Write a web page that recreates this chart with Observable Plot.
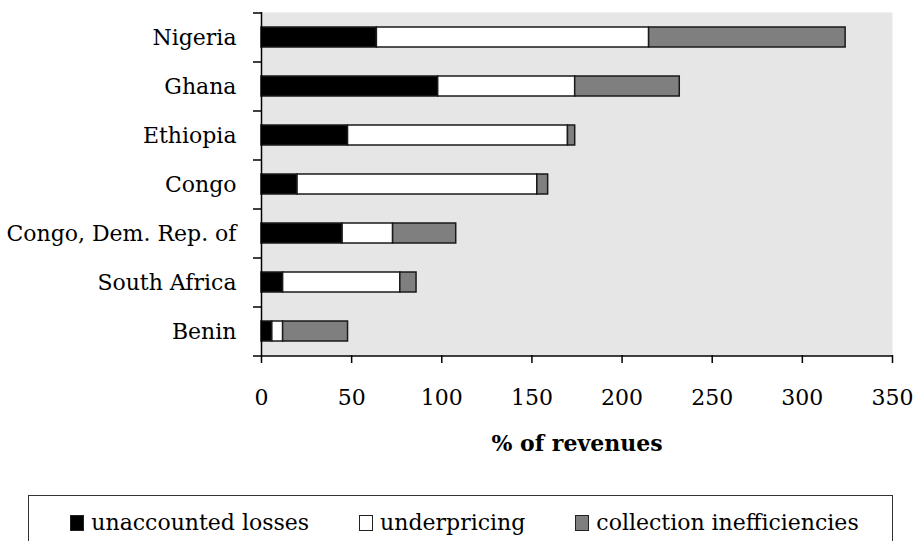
<!DOCTYPE html>
<html>
<head>
<meta charset="utf-8">
<script src="https://cdn.jsdelivr.net/npm/d3@7"></script>
<script src="https://cdn.jsdelivr.net/npm/@observablehq/plot@0.6"></script>
<style>
  html, body { margin: 0; padding: 0; background: #fff; }
  body { position: relative; width: 915px; height: 541px; overflow: hidden; font-family: "DejaVu Serif", serif; }
  #chart svg { display: block; }
  #legend {
    position: absolute; left: 28px; top: 495px; width: 865px; height: 60px;
    box-sizing: border-box; border: 1.5px solid #333; background: #fff;
    display: flex; justify-content: center; align-items: flex-start;
    padding-top: 14px; padding-left: 8px; gap: 50px; font-size: 22px; color: #000;
  }
  .item { display: flex; align-items: center; white-space: nowrap; }
  .sw { display: inline-block; width: 12px; height: 14px; border: 1.5px solid #222; margin-right: 7px; }
</style>
</head>
<body>
<div id="chart"></div>
<div id="legend"></div>
<script>
const countries = ["Nigeria", "Ghana", "Ethiopia", "Congo", "Congo, Dem. Rep. of", "South Africa", "Benin"];
const unaccountedLosses = [64, 98, 48, 20, 45, 12, 6];
const underpricing = [151, 76, 122, 133, 28, 65, 6];
const collectionInefficiencies = [109, 58, 4, 6, 35, 9, 36];
const seriesNames = ["unaccounted losses", "underpricing", "collection inefficiencies"];
const seriesColors = ["#000000", "#ffffff", "#7f7f7f"];
const xTicks = [0, 50, 100, 150, 200, 250, 300, 350];
const xTitle = "% of revenues";

const seriesValues = [unaccountedLosses, underpricing, collectionInefficiencies];
const data = [];
countries.forEach((c, i) => {
  seriesNames.forEach((s, j) => data.push({country: c, series: s, value: seriesValues[j][i]}));
});

const W = 915, H = 490, mT = 12, mB = 135, mL = 261, mR = 23;
const step = (H - mT - mB) / countries.length;

const chart = Plot.plot({
  width: W, height: H,
  marginTop: mT, marginBottom: mB, marginLeft: mL, marginRight: mR,
  style: {fontFamily: "DejaVu Serif", fontSize: "22px", color: "#000", background: "#fff"},
  x: {domain: [0, 350], ticks: xTicks},
  y: {domain: countries, paddingInner: 0.6, paddingOuter: 0.3},
  color: {domain: seriesNames, range: seriesColors},
  marks: [
    Plot.frame({fill: "#e6e6e6", stroke: null}),
    Plot.barX(data, Plot.stackX({
      x: "value", y: "country", fill: "series", order: seriesNames,
      stroke: "#1a1a1a", strokeWidth: 1.5
    })),
    Plot.ruleX([0], {stroke: "#000", strokeWidth: 1.5}),
    Plot.ruleY([countries[countries.length - 1]], {dy: step / 2, stroke: "#000", strokeWidth: 1.5}),
    Plot.axisX({ticks: xTicks, tickSize: 8, tickPadding: 26, strokeWidth: 1.5, label: null, fontSize: 22}),
    Plot.axisY({tickSize: 0, tickPadding: 25, label: null, fontSize: 22}),
    Plot.axisY({tickSize: 8, text: null, dy: -step / 2, strokeWidth: 1.5, label: null}),
    Plot.axisY([countries[countries.length - 1]], {tickSize: 8, text: null, dy: step / 2, strokeWidth: 1.5, label: null}),
    Plot.text([xTitle], {frameAnchor: "bottom", dy: 95, fontWeight: "bold", fontSize: 22, fill: "#000"})
  ]
});
document.getElementById("chart").appendChild(chart);

const legend = document.getElementById("legend");
seriesNames.forEach((s, i) => {
  const item = document.createElement("div");
  item.className = "item";
  const sw = document.createElement("span");
  sw.className = "sw";
  sw.style.background = seriesColors[i];
  const t = document.createElement("span");
  t.textContent = s;
  item.appendChild(sw);
  item.appendChild(t);
  legend.appendChild(item);
});
</script>
</body>
</html>
